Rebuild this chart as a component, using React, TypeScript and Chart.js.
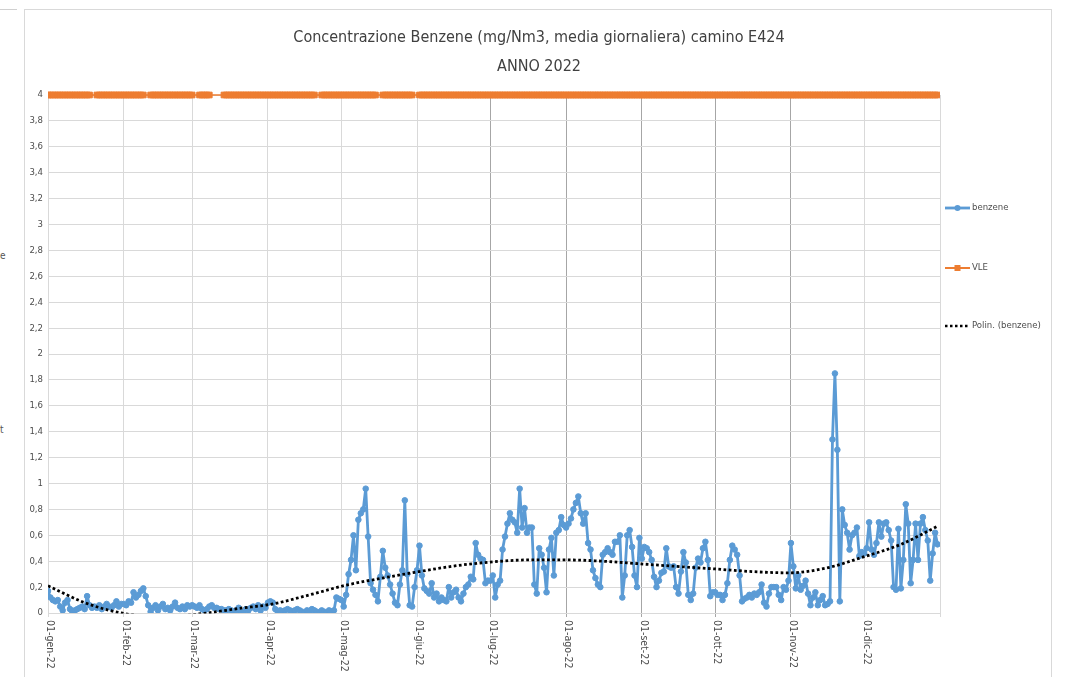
import React, { useEffect, useRef } from 'react';
import { Chart, registerables } from 'chart.js';

Chart.register(...registerables);

// ---------- data ----------
const titleLines = ['Concentrazione Benzene (mg/Nm3, media giornaliera) camino E424', 'ANNO 2022'];

const monthStartDays = [0, 31, 59, 90, 120, 151, 181, 212, 243, 273, 304, 334, 365];
const monthLabels = ['01-gen-22', '01-feb-22', '01-mar-22', '01-apr-22', '01-mag-22', '01-giu-22', '01-lug-22', '01-ago-22', '01-set-22', '01-ott-22', '01-nov-22', '01-dic-22', ''];

const benzeneGen = [0.17, 0.12, 0.10, 0.09, 0.10, 0.05, 0.02, 0.08, 0.10, 0.03, 0.00, 0.02, 0.03, 0.04, 0.05, 0.03, 0.13, 0.06, 0.04, 0.05, 0.04, 0.06, 0.03, 0.05, 0.07, 0.05, 0.04, 0.06, 0.09, 0.05, 0.07];
const benzeneFeb = [0.07, 0.06, 0.09, 0.08, 0.16, 0.12, 0.14, 0.17, 0.19, 0.13, 0.06, 0.01, 0.04, 0.06, 0.02, 0.05, 0.07, 0.03, 0.04, 0.02, 0.05, 0.08, 0.04, 0.03, 0.05, 0.03, 0.06, 0.05];
const benzeneMar = [0.06, 0.05, 0.04, 0.06, 0.03, 0.02, 0.03, 0.05, 0.06, 0.04, 0.04, 0.03, 0.03, 0.02, 0.02, 0.03, 0.02, 0.01, 0.02, 0.04, 0.01, 0.00, 0.03, 0.02, 0.04, 0.05, 0.03, 0.06, 0.02, 0.05, 0.04];
const benzeneApr = [0.08, 0.09, 0.08, 0.03, 0.01, 0.02, 0.01, 0.02, 0.03, 0.02, 0.01, 0.02, 0.03, 0.02, 0.01, 0.00, 0.02, 0.01, 0.03, 0.02, 0.01, 0.00, 0.02, 0.01, 0.00, 0.02, 0.01, 0.02, 0.12, 0.11];
const benzeneMag = [0.10, 0.05, 0.14, 0.30, 0.41, 0.60, 0.33, 0.72, 0.77, 0.80, 0.96, 0.59, 0.23, 0.18, 0.14, 0.09, 0.28, 0.48, 0.35, 0.29, 0.22, 0.15, 0.08, 0.06, 0.22, 0.33, 0.87, 0.30, 0.06, 0.05, 0.20];
const benzeneGiu = [0.33, 0.52, 0.29, 0.19, 0.17, 0.15, 0.23, 0.12, 0.15, 0.09, 0.12, 0.10, 0.09, 0.20, 0.12, 0.16, 0.18, 0.12, 0.09, 0.15, 0.20, 0.22, 0.28, 0.26, 0.54, 0.45, 0.42, 0.41, 0.23, 0.25];
const benzeneLug = [0.25, 0.29, 0.12, 0.22, 0.25, 0.49, 0.59, 0.69, 0.77, 0.72, 0.70, 0.62, 0.96, 0.66, 0.81, 0.62, 0.66, 0.66, 0.22, 0.15, 0.50, 0.45, 0.35, 0.16, 0.49, 0.58, 0.29, 0.62, 0.64, 0.74, 0.68];
const benzeneAgo = [0.66, 0.69, 0.73, 0.80, 0.85, 0.90, 0.77, 0.69, 0.77, 0.54, 0.49, 0.33, 0.27, 0.22, 0.20, 0.45, 0.47, 0.50, 0.47, 0.45, 0.55, 0.55, 0.60, 0.12, 0.29, 0.60, 0.64, 0.51, 0.29, 0.20, 0.58];
const benzeneSet = [0.42, 0.51, 0.50, 0.47, 0.41, 0.28, 0.20, 0.25, 0.31, 0.32, 0.50, 0.36, 0.35, 0.36, 0.20, 0.15, 0.32, 0.47, 0.39, 0.14, 0.10, 0.15, 0.35, 0.42, 0.39, 0.50, 0.55, 0.41, 0.13, 0.16];
const benzeneOtt = [0.16, 0.14, 0.14, 0.10, 0.14, 0.23, 0.41, 0.52, 0.49, 0.45, 0.29, 0.09, 0.11, 0.12, 0.14, 0.12, 0.15, 0.14, 0.16, 0.22, 0.08, 0.05, 0.15, 0.20, 0.20, 0.20, 0.14, 0.10, 0.20, 0.18, 0.25];
const benzeneNov = [0.54, 0.36, 0.19, 0.29, 0.18, 0.21, 0.25, 0.15, 0.06, 0.12, 0.16, 0.06, 0.10, 0.13, 0.06, 0.07, 0.09, 1.34, 1.85, 1.26, 0.09, 0.80, 0.68, 0.62, 0.49, 0.60, 0.62, 0.66, 0.44, 0.47];
const benzeneDic = [0.46, 0.50, 0.70, 0.49, 0.45, 0.54, 0.70, 0.59, 0.69, 0.70, 0.64, 0.56, 0.20, 0.18, 0.65, 0.19, 0.41, 0.84, 0.69, 0.23, 0.41, 0.69, 0.41, 0.69, 0.74, 0.64, 0.56, 0.25, 0.46, 0.62, 0.53];

const benzene = [
  ...benzeneGen, ...benzeneFeb, ...benzeneMar, ...benzeneApr, ...benzeneMag, ...benzeneGiu,
  ...benzeneLug, ...benzeneAgo, ...benzeneSet, ...benzeneOtt, ...benzeneNov, ...benzeneDic,
];

const vleLimit = 4;
const vleMissingDays = [18, 19, 40, 41, 60, 61, 67, 68, 69, 70, 71, 110, 111, 135, 136, 150, 151];

// polynomial trend line (at these days)
const trendDays = [0, 15, 30, 47, 65, 78, 92, 107, 122, 137, 152, 167, 182, 197, 212, 227, 242, 257, 273, 288, 303, 318, 334, 349, 364];
const trendValues = [0.21, 0.08, 0.0, -0.03, 0.0, 0.035, 0.07, 0.14, 0.215, 0.27, 0.32, 0.365, 0.395, 0.41, 0.41, 0.40, 0.38, 0.36, 0.34, 0.32, 0.31, 0.345, 0.435, 0.53, 0.67];

const seriesNames = ['benzene', 'VLE', 'Polin. (benzene)'];

// ---------- styles ----------
const BLUE = '#5B9BD5';
const ORANGE = '#ED7D31';
const TEXT = '#4d4d4d';
const NARROW = "'DejaVu Sans Condensed', 'Liberation Sans Narrow', 'Roboto', sans-serif";
const DARK_GRID_DAYS = new Set([181, 212, 243, 273, 304]);

const overlayPlugin = {
  id: 'overlay',
  afterDraw(chart: any) {
    const ctx = chart.ctx as CanvasRenderingContext2D;
    const xs = chart.scales.x;
    const area = chart.chartArea;
    ctx.save();
    // rotated month labels (reading top to bottom)
    ctx.fillStyle = TEXT;
    ctx.font = `10.5px ${NARROW}`;
    ctx.textBaseline = 'middle';
    ctx.textAlign = 'left';
    monthStartDays.forEach((d, i) => {
      const label = monthLabels[i];
      if (!label) return;
      const x = xs.getPixelForValue(d);
      ctx.save();
      ctx.translate(x + 2, area.bottom + 7);
      ctx.rotate(Math.PI / 2);
      ctx.fillText(label, 0, 0);
      ctx.restore();
    });

    // legend
    const lx0 = area.right + 5;
    const lx1 = lx0 + 25;
    const ys = [208, 268, 326];
    ctx.font = `9.5px ${NARROW}`;
    ctx.textAlign = 'left';
    ctx.textBaseline = 'middle';
    // benzene
    ctx.strokeStyle = BLUE;
    ctx.lineWidth = 2.8;
    ctx.beginPath(); ctx.moveTo(lx0, ys[0]); ctx.lineTo(lx1, ys[0]); ctx.stroke();
    ctx.fillStyle = BLUE;
    ctx.beginPath(); ctx.arc((lx0 + lx1) / 2, ys[0], 3, 0, Math.PI * 2); ctx.fill();
    // VLE
    ctx.strokeStyle = ORANGE;
    ctx.lineWidth = 2;
    ctx.beginPath(); ctx.moveTo(lx0, ys[1]); ctx.lineTo(lx1, ys[1]); ctx.stroke();
    ctx.fillStyle = ORANGE;
    ctx.fillRect((lx0 + lx1) / 2 - 3, ys[1] - 3, 6, 6);
    // trend
    ctx.strokeStyle = '#000';
    ctx.lineWidth = 2.5;
    ctx.setLineDash([2.5, 2.5]);
    ctx.beginPath(); ctx.moveTo(lx0, ys[2]); ctx.lineTo(lx1, ys[2]); ctx.stroke();
    ctx.setLineDash([]);
    ctx.fillStyle = TEXT;
    seriesNames.forEach((n, i) => ctx.fillText(n, lx1 + 2, ys[i]));
    ctx.restore();
  },
};

export default function App() {
  const canvasRef = useRef<HTMLCanvasElement | null>(null);

  useEffect(() => {
    const canvas = canvasRef.current;
    if (!canvas) return;
    const missing = new Set(vleMissingDays);
    const chart = new Chart(canvas, {
      type: 'line',
      data: {
        datasets: [
          {
            label: seriesNames[2],
            data: trendDays.map((d, i) => ({ x: d, y: trendValues[i] })),
            borderColor: '#000000',
            borderWidth: 2.8,
            borderDash: [2.7, 2.5],
            pointRadius: 0,
            cubicInterpolationMode: 'monotone',
            fill: false,
            order: 0,
            clip: { left: 0, right: 0, top: 0, bottom: 0.5 } as any,
          },
          {
            label: seriesNames[0],
            data: benzene.map((v, i) => ({ x: i, y: v })),
            borderColor: BLUE,
            backgroundColor: BLUE,
            borderWidth: 2.8,
            borderJoinStyle: 'round',
            pointRadius: 2.8,
            pointBorderWidth: 1,
            pointBackgroundColor: BLUE,
            pointBorderColor: BLUE,
            tension: 0,
            fill: false,
            order: 1,
          },
          {
            label: seriesNames[1],
            data: benzene.map((_, i) => ({ x: i, y: missing.has(i) ? null : vleLimit })),
            borderColor: ORANGE,
            backgroundColor: ORANGE,
            borderWidth: 1.5,
            pointStyle: 'rect',
            pointRadius: 4,
            pointBorderWidth: 1,
            pointBackgroundColor: ORANGE,
            pointBorderColor: ORANGE,
            spanGaps: true,
            tension: 0,
            fill: false,
            clip: { left: 0, right: 0, top: 6, bottom: 6 } as any,
            order: 2,
          },
        ],
      },
      options: {
        responsive: false,
        animation: false,
        events: [],
        layout: { padding: { left: 28, right: 138, top: 95, bottom: 54 } },
        plugins: {
          legend: { display: false },
          title: { display: false },
          tooltip: { enabled: false },
        },
        scales: {
          x: {
            type: 'linear',
            min: 0,
            max: 365,
            afterBuildTicks: (scale: any) => {
              scale.ticks = monthStartDays.map((v) => ({ value: v }));
            },
            afterFit: (scale: any) => {
              scale.height = 10;
            },
            ticks: { display: false },
            border: { display: false },
            grid: {
              color: (c: any) => (DARK_GRID_DAYS.has(c.tick?.value) ? '#a6a6a6' : '#d9d9d9'),
              lineWidth: 1,
              drawTicks: true,
              tickLength: 4,
            },
          },
          y: {
            min: 0,
            max: 4,
            afterFit: (scale: any) => {
              scale.width = 20;
            },
            ticks: {
              stepSize: 0.2,
              color: TEXT,
              padding: 5,
              font: { family: NARROW, size: 9.5 },
              callback: (v: any) => (Math.round(Number(v) * 10) / 10).toString().replace('.', ','),
            },
            border: { display: false },
            grid: { color: '#d9d9d9', lineWidth: 1, drawTicks: false },
          },
        },
      },
      plugins: [overlayPlugin],
    } as any);
    return () => chart.destroy();
  }, []);

  return (
    <div style={{ position: 'fixed', left: 0, top: 0, width: 1078, height: 677, background: '#fff', overflow: 'hidden' }}>
      <div style={{ position: 'absolute', left: 0, top: 9, width: 17, height: 0, borderTop: '1px solid #d0d0d0' }} />
      <div style={{ position: 'absolute', left: 24, top: 9, width: 1028, height: 720, border: '1px solid #d9d9d9', boxSizing: 'border-box' }} />
      <span style={{ position: 'absolute', left: 0, top: 250, font: `10px ${NARROW}`, color: '#555' }}>e</span>
      <span style={{ position: 'absolute', left: 0, top: 424, font: `10px ${NARROW}`, color: '#555' }}>t</span>
      <canvas ref={canvasRef} width={1078} height={677} style={{ position: 'absolute', left: 0, top: 0 }} />
      <div style={{ position: 'absolute', left: 0, width: 1078, top: 25, textAlign: 'center', font: `16px ${NARROW}`, color: '#404040', lineHeight: '24px' }}>
        {titleLines[0]}
      </div>
      <div style={{ position: 'absolute', left: 0, width: 1078, top: 54, textAlign: 'center', font: `16px ${NARROW}`, color: '#404040', lineHeight: '24px' }}>
        {titleLines[1]}
      </div>
    </div>
  );
}
